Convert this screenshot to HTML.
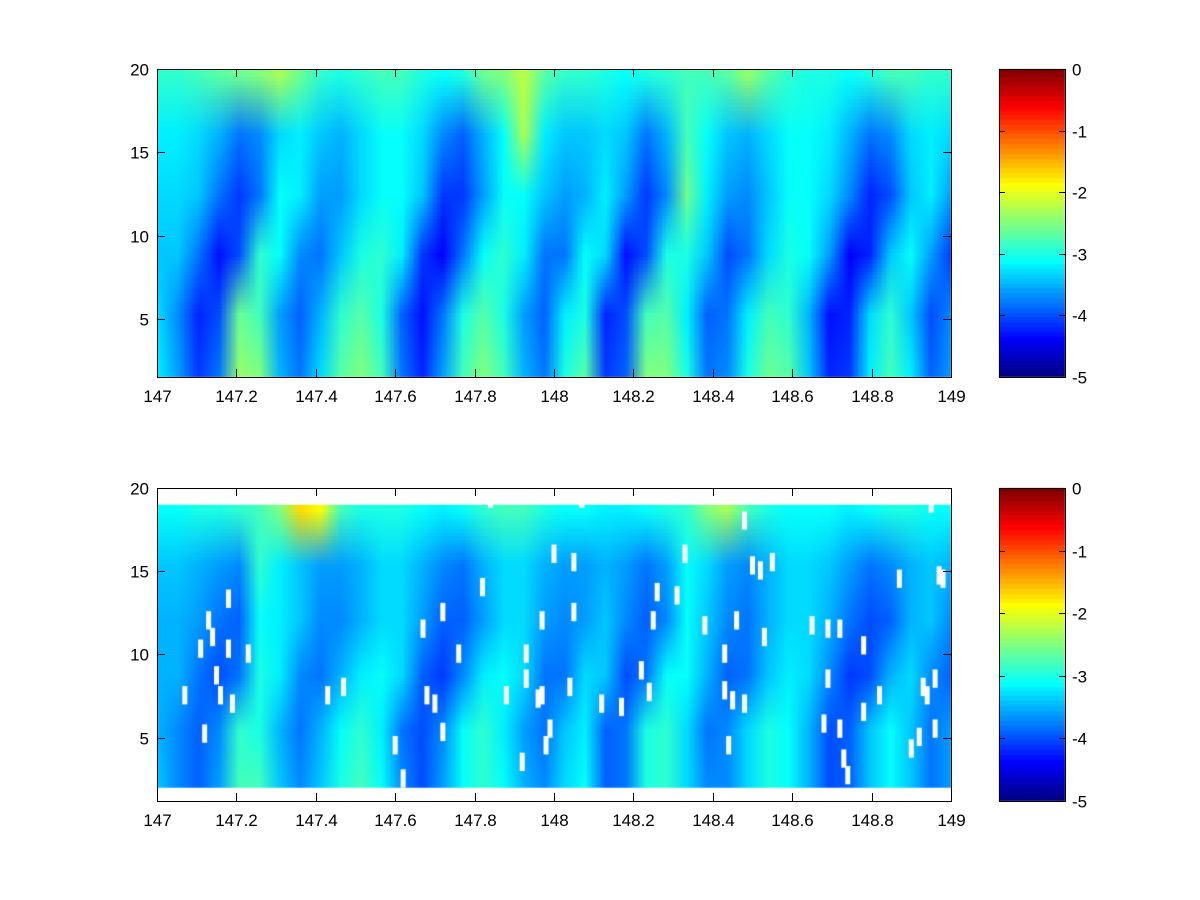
<!DOCTYPE html>
<html><head><meta charset="utf-8">
<style>
html,body{margin:0;padding:0;background:#fff;}
#wrap{position:relative;width:1200px;height:900px;overflow:hidden;}
canvas,svg{position:absolute;left:0;top:0;}
text{font-family:"Liberation Sans",sans-serif;font-size:17px;fill:#000;}
</style></head>
<body>
<div id="wrap">
<canvas id="cv" width="1200" height="900"></canvas>
<svg id="sv" width="1200" height="900"></svg>
</div>
<script>
// ---- data ----
const xTicks = [147,147.2,147.4,147.6,147.8,148,148.2,148.4,148.6,148.8,149];
const yTicks = [5,10,15,20];
const cbTicks = [0,-1,-2,-3,-4,-5];
const xMin = 147, xMax = 149;
const topRowY = [18.5,15,11.5,8,5,2.5];
const topGrid = [
[-2.9,-2.9,-2.8,-2.7,-2.6,-2.5,-2.3,-2.6,-2.9,-3.0,-2.9,-2.8,-2.8,-3.0,-3.1,-3.0,-2.6,-2.5,-2.2,-2.7,-2.9,-2.9,-3.0,-3.1,-3.0,-2.9,-2.8,-2.8,-2.7,-2.4,-2.7,-2.9,-3.0,-3.0,-3.1,-3.0,-2.8,-2.8,-2.9,-2.9],
[-3.2,-3.2,-3.3,-3.5,-3.8,-3.7,-3.3,-3.2,-3.4,-3.5,-3.3,-3.1,-3.1,-3.3,-3.7,-3.9,-3.5,-3.1,-2.3,-3.2,-3.4,-3.4,-3.3,-3.4,-3.8,-3.5,-2.8,-3.1,-3.4,-3.5,-3.3,-3.1,-3.1,-3.2,-3.5,-3.8,-3.7,-3.3,-3.2,-3.3],
[-3.3,-3.3,-3.4,-3.8,-4.1,-3.8,-3.1,-3.2,-3.6,-3.6,-3.3,-3.1,-3.1,-3.4,-4.1,-4.1,-3.6,-3.1,-3.1,-3.4,-3.6,-3.5,-3.2,-3.6,-4.1,-3.7,-2.6,-3.2,-3.6,-3.7,-3.4,-3.1,-3.1,-3.3,-3.7,-4.2,-4.0,-3.4,-3.2,-3.6],
[-3.4,-3.4,-3.8,-4.3,-4.0,-2.9,-3.1,-3.7,-3.8,-3.4,-3.0,-2.9,-3.2,-4.1,-4.4,-3.8,-3.1,-2.9,-3.2,-3.8,-3.8,-3.1,-3.3,-4.3,-4.0,-3.0,-3.0,-3.4,-4.0,-3.8,-3.3,-3.0,-3.1,-3.6,-4.4,-4.2,-3.4,-3.1,-3.6,-4.1],
[-3.3,-3.7,-4.2,-4.0,-2.6,-2.8,-3.6,-3.9,-3.5,-2.9,-2.7,-3.0,-3.9,-4.3,-3.8,-3.0,-2.7,-3.0,-3.6,-3.9,-3.2,-3.0,-4.2,-4.0,-2.8,-2.7,-3.2,-3.9,-3.8,-3.2,-2.8,-2.9,-3.5,-4.3,-4.2,-3.3,-2.9,-3.4,-4.0,-3.7],
[-3.2,-3.6,-4.1,-3.8,-2.4,-2.5,-3.5,-3.8,-3.3,-2.7,-2.5,-2.8,-3.8,-4.2,-3.6,-2.8,-2.5,-2.8,-3.5,-3.8,-3.0,-2.7,-4.1,-3.9,-2.5,-2.5,-3.0,-3.8,-3.7,-3.0,-2.6,-2.7,-3.4,-4.2,-4.1,-3.2,-2.8,-3.2,-3.9,-3.6]
];
const botRowY = [18.5,15,11.5,8,5,2.5];
const botGrid = [
[-3.1,-3.1,-3.0,-3.0,-2.9,-2.8,-2.5,-1.7,-1.9,-2.8,-3.0,-3.0,-3.0,-3.1,-3.2,-3.1,-2.9,-2.8,-2.8,-3.0,-3.1,-3.1,-3.2,-3.2,-3.1,-3.0,-2.9,-2.5,-2.3,-2.8,-3.0,-3.1,-3.1,-3.1,-3.2,-3.1,-3.0,-3.0,-3.1,-3.1],
[-3.4,-3.4,-3.5,-3.6,-3.7,-2.9,-3.2,-3.4,-3.6,-3.6,-3.5,-3.3,-3.3,-3.5,-3.7,-3.8,-3.5,-3.3,-3.3,-3.5,-3.6,-3.6,-3.5,-3.6,-3.8,-3.6,-3.1,-3.3,-3.6,-3.7,-3.5,-3.3,-3.3,-3.4,-3.6,-3.8,-3.7,-3.5,-3.4,-3.5],
[-3.5,-3.5,-3.6,-3.8,-3.9,-3.1,-3.2,-3.4,-3.7,-3.7,-3.5,-3.3,-3.3,-3.6,-3.9,-3.9,-3.6,-3.3,-3.3,-3.6,-3.7,-3.6,-3.4,-3.7,-3.9,-3.7,-3.1,-3.4,-3.7,-3.8,-3.5,-3.3,-3.3,-3.5,-3.8,-4.0,-3.9,-3.5,-3.4,-3.7],
[-3.5,-3.5,-3.8,-4.0,-3.8,-3.0,-3.2,-3.7,-3.8,-3.5,-3.2,-3.1,-3.3,-3.9,-4.1,-3.7,-3.2,-3.1,-3.3,-3.8,-3.8,-3.3,-3.4,-4.0,-3.8,-3.1,-3.1,-3.5,-3.9,-3.8,-3.4,-3.2,-3.3,-3.7,-4.1,-4.0,-3.5,-3.3,-3.7,-3.9],
[-3.5,-3.7,-3.9,-3.7,-2.9,-3.0,-3.5,-3.8,-3.5,-3.1,-2.9,-3.2,-3.8,-4.0,-3.7,-3.1,-2.9,-3.2,-3.6,-3.8,-3.4,-3.2,-3.9,-3.8,-3.0,-2.9,-3.3,-3.8,-3.7,-3.3,-3.0,-3.1,-3.5,-4.0,-3.9,-3.4,-3.1,-3.4,-3.8,-3.6],
[-3.4,-3.7,-3.9,-3.6,-2.8,-2.8,-3.4,-3.7,-3.4,-3.0,-2.8,-3.1,-3.7,-4.0,-3.6,-3.1,-2.9,-3.1,-3.5,-3.7,-3.3,-3.1,-3.9,-3.8,-3.0,-2.9,-3.3,-3.7,-3.7,-3.3,-3.0,-3.1,-3.5,-4.0,-3.9,-3.4,-3.1,-3.4,-3.8,-3.6]
];
const gapX = [147.07,147.12,147.13,147.14,147.11,147.15,147.18,147.18,147.19,147.23,147.16,147.43,147.47,147.6,147.62,147.72,147.76,147.68,147.7,147.72,147.67,147.82,147.88,147.93,147.93,147.97,147.97,147.96,147.92,147.98,147.99,148.0,148.05,148.04,148.05,148.12,148.17,148.22,148.26,148.24,148.25,148.31,148.33,148.38,148.43,148.44,148.43,148.45,148.46,148.48,148.5,148.52,148.53,148.55,148.48,148.65,148.69,148.68,148.69,148.73,148.74,148.72,148.72,148.78,148.78,148.82,148.87,148.9,148.93,148.94,148.96,148.98,148.97,148.96,148.95,148.92,147.84,148.07];
const gapY = [7,4.7,11.5,10.5,9.8,8.2,12.8,9.8,6.5,9.5,7,7,7.5,4,2,12,9.5,7,6.5,4.8,11,13.5,7,9.5,8,11.5,7,6.8,3,4,5,15.5,15,7.5,12,6.5,6.3,8.5,13.2,7.2,11.5,13,15.5,11.2,9.5,4,7.3,6.7,11.5,17.5,14.8,14.5,10.5,15,6.5,11.2,11,5.3,8,3.2,2.2,5,11,10,6,7,14,3.8,7.5,7,8,14,14.2,5,18.5,4.5,18.8,18.8];

// ---- layout ----
const panels = [
 {name:'top', L:157,R:951,T:69,B:377,yMax:20,yMin:1.55,grid:topGrid,rowY:topRowY,dataTop:20,dataBot:1.55,cbT:69,cbB:377},
 {name:'bottom', L:157,R:951,T:488,B:801,yMax:20,yMin:1.2,grid:botGrid,rowY:botRowY,dataTop:19,dataBot:2,cbT:488,cbB:801}
];
function jet(v){
  let t=(v+5)/5; t=Math.max(0,Math.min(1,t));
  const c=x=>Math.round(255*Math.max(0,Math.min(1,x)));
  return [c(1.5-Math.abs(4*t-3)),c(1.5-Math.abs(4*t-2)),c(1.5-Math.abs(4*t-1))];
}
const cv=document.getElementById('cv'), ctx=cv.getContext('2d');
const sv=document.getElementById('sv'), NS='http://www.w3.org/2000/svg';
function mk(tag,attrs,parent){const e=document.createElementNS(NS,tag);for(const k in attrs)e.setAttribute(k,attrs[k]);(parent||sv).appendChild(e);return e;}

panels.forEach(p=>{
  const xs=v=>p.L+(v-xMin)/(xMax-xMin)*(p.R-p.L);
  const ys=v=>p.T+(p.yMax-v)/(p.yMax-p.yMin)*(p.B-p.T);
  const nc=p.grid[0].length, nr=p.grid.length;
  const sm=document.createElement('canvas'); sm.width=nc; sm.height=nr;
  const sc=sm.getContext('2d'); const img=sc.createImageData(nc,nr);
  for(let r=0;r<nr;r++)for(let c=0;c<nc;c++){const col=jet(p.grid[r][c]);const i=(r*nc+c)*4;img.data[i]=col[0];img.data[i+1]=col[1];img.data[i+2]=col[2];img.data[i+3]=255;}
  sc.putImageData(img,0,0);
  ctx.imageSmoothingEnabled=true;
  const y0=ys(p.dataTop), y1=ys(p.dataBot);
  ctx.save(); ctx.beginPath(); ctx.rect(p.L,y0,p.R-p.L,y1-y0); ctx.clip();
  const cw=(p.R-p.L)/nc, rh=(y1-y0)/nr;
  ctx.drawImage(sm,p.L-cw/2,y0-rh/2,p.R-p.L+cw,y1-y0+rh);
  ctx.restore();
  if(p.name==='bottom'){
    ctx.fillStyle='#fff';
    gapX.forEach((gx,i)=>{ctx.fillRect(xs(gx)-2.5,ys(gapY[i]+1.1),5,ys(gapY[i])-ys(gapY[i]+1.1));});
  }
  // colorbar
  for(let y=p.cbT;y<p.cbB;y++){const v=-5*(y-p.cbT)/(p.cbB-p.cbT);const q=Math.round(v*64/5)*5/64;const col=jet(q);ctx.fillStyle=`rgb(${col})`;ctx.fillRect(999,y,66,1);}
  const g=mk('g',{});
  
  
  const fr=mk('rect',{x:p.L+.5,y:p.T+.5,width:p.R-p.L,height:p.B-p.T,fill:'none',stroke:'#000','stroke-width':1},g);
  
  
  xTicks.forEach(v=>{const x=Math.round(xs(v))+.5;
    mk('line',{x1:x,x2:x,y1:p.B,y2:p.B-8,stroke:'#000'},g);mk('line',{x1:x,x2:x,y1:p.T,y2:p.T+8,stroke:'#000'},g);
    const t=mk('text',{x:x,y:p.B+25,'text-anchor':'middle'},g);t.textContent=String(v);
    
    });
  yTicks.forEach(v=>{const y=Math.round(ys(v))+.5;
    mk('line',{x1:p.L,x2:p.L+8,y1:y,y2:y,stroke:'#000'},g);mk('line',{x1:p.R,x2:p.R-8,y1:y,y2:y,stroke:'#000'},g);
    const t=mk('text',{x:p.L-8,y:y+6,'text-anchor':'end'},g);t.textContent=String(v);
    
    });
  const cb=mk('rect',{x:999.5,y:p.cbT+.5,width:66,height:p.cbB-p.cbT,fill:'none',stroke:'#000'},g);
  
  
  cbTicks.forEach(v=>{const y=Math.round(p.cbT+(-v)/5*(p.cbB-p.cbT))+.5;
    mk('line',{x1:999,x2:1005,y1:y,y2:y,stroke:'#000'},g);mk('line',{x1:1065,x2:1059,y1:y,y2:y,stroke:'#000'},g);
    const t=mk('text',{x:1072,y:y+6},g);t.textContent=String(v);
    
    });
});
</script>
</body></html>
